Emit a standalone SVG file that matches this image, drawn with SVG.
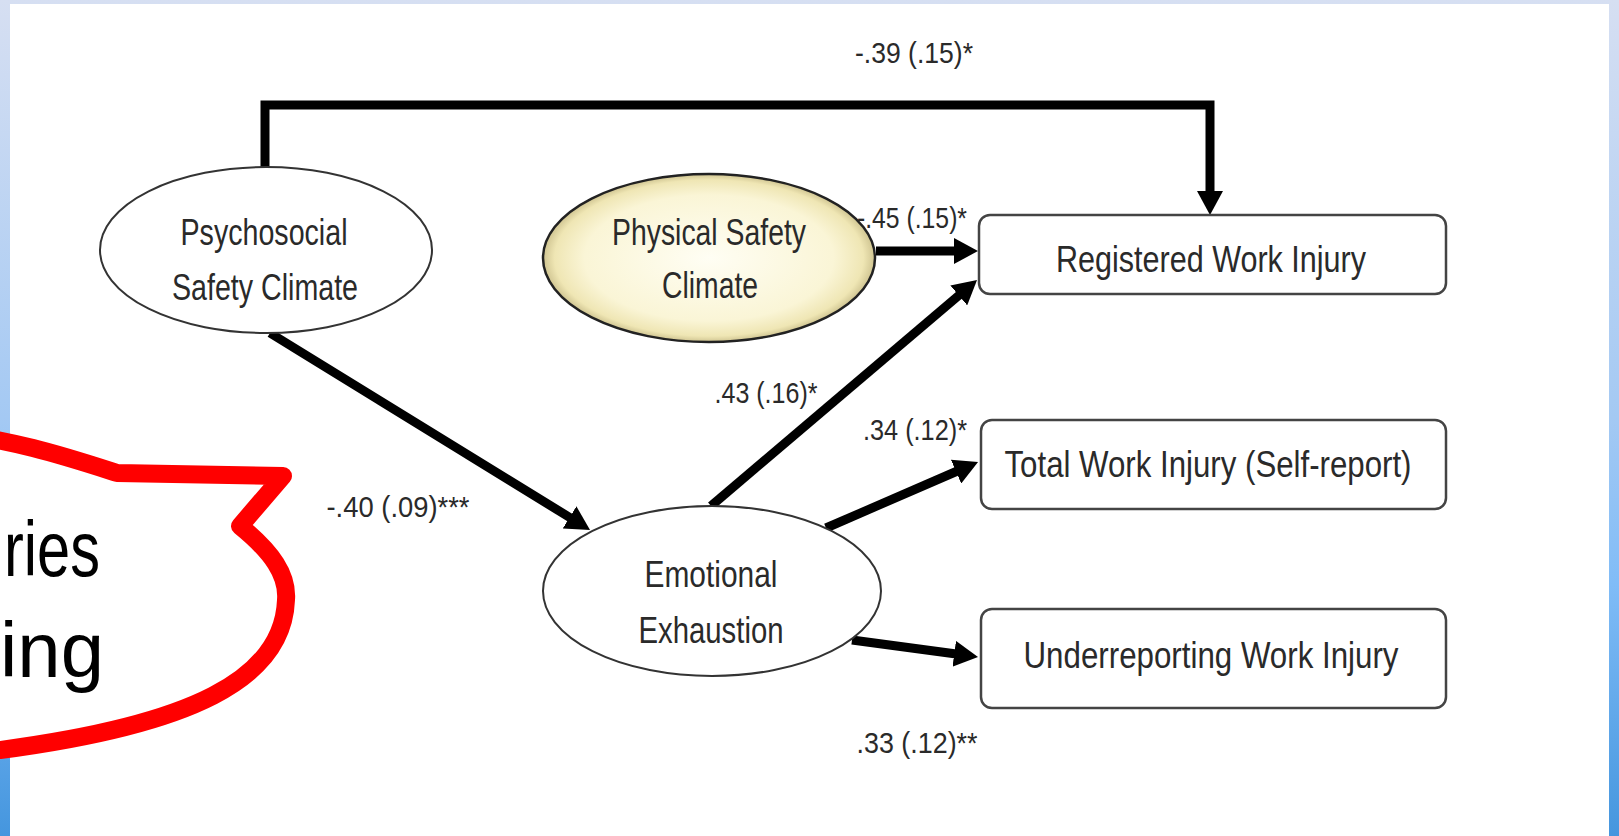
<svg xmlns="http://www.w3.org/2000/svg" width="1619" height="836" viewBox="0 0 1619 836">
  <style>
    .node-text { font-family: "Liberation Sans", Arial, sans-serif; font-size: 37px; fill: #2a2a2a; text-anchor: middle; }
    .label { font-family: "Liberation Sans", Arial, sans-serif; font-size: 30px; fill: #2a2a2a; text-anchor: middle; }
    .ell { fill: #ffffff; stroke: #333333; stroke-width: 2; }
    .box { fill: #ffffff; stroke: #444444; stroke-width: 2.5; }
    .conn { fill: none; stroke: #000000; stroke-width: 9; }
    .callout-text { font-family: "Liberation Sans", Arial, sans-serif; font-size: 77px; fill: #000000; }
  </style>
  <defs>
    <linearGradient id="frame" x1="0" y1="0" x2="0" y2="1">
      <stop offset="0" stop-color="#d6dff2"/>
      <stop offset="0.5" stop-color="#a4c9f3"/>
      <stop offset="0.7" stop-color="#80bcf7"/>
      <stop offset="1" stop-color="#4596de"/>
    </linearGradient>
    <radialGradient id="cream" cx="0.5" cy="0.5" r="0.5">
      <stop offset="0" stop-color="#fffef4"/>
      <stop offset="0.75" stop-color="#faf5d6"/>
      <stop offset="0.93" stop-color="#efe6b4"/>
      <stop offset="1" stop-color="#cfc491"/>
    </radialGradient>
    <marker id="arrow" markerUnits="userSpaceOnUse" markerWidth="24" markerHeight="26" viewBox="0 0 24 26" refX="4" refY="13" orient="auto">
      <path d="M0,0 L24,13 L0,26 Z" fill="#000000"/>
    </marker>
  </defs>

  <rect x="0" y="0" width="1619" height="836" fill="url(#frame)"/>
  <rect x="10" y="4" width="1599" height="832" fill="#ffffff"/>

  <g id="connectors">
    <path class="conn" d="M265,168 V105 H1210 V195" marker-end="url(#arrow)"/>
    <line class="conn" x1="876" y1="251" x2="958" y2="251" marker-end="url(#arrow)"/>
    <line class="conn" x1="270" y1="333" x2="573" y2="519.5" marker-end="url(#arrow)"/>
    <line class="conn" x1="711" y1="506" x2="961.8" y2="292.9" marker-end="url(#arrow)"/>
    <line class="conn" x1="826" y1="528" x2="959.7" y2="470" marker-end="url(#arrow)"/>
    <line class="conn" x1="852" y1="640" x2="958.2" y2="654.3" marker-end="url(#arrow)"/>
    <text class="label" x="914" y="63" textLength="118" lengthAdjust="spacingAndGlyphs">-.39 (.15)*</text>
    <text class="label" x="912" y="228" textLength="110" lengthAdjust="spacingAndGlyphs">-.45 (.15)*</text>
    <text class="label" x="766" y="403" textLength="103" lengthAdjust="spacingAndGlyphs">.43 (.16)*</text>
    <text class="label" x="915" y="440" textLength="104" lengthAdjust="spacingAndGlyphs">.34 (.12)*</text>
    <text class="label" x="398" y="517" textLength="143" lengthAdjust="spacingAndGlyphs">-.40 (.09)***</text>
    <text class="label" x="917" y="753" textLength="121" lengthAdjust="spacingAndGlyphs">.33 (.12)**</text>
  </g>

  <g id="psychosocial">
    <ellipse class="ell" cx="266" cy="250" rx="166" ry="83"/>
    <text class="node-text" x="264" y="245" textLength="167" lengthAdjust="spacingAndGlyphs">Psychosocial</text>
    <text class="node-text" x="265" y="300" textLength="186" lengthAdjust="spacingAndGlyphs">Safety Climate</text>
  </g>

  <g id="physical">
    <ellipse cx="709" cy="258" rx="166" ry="84" fill="url(#cream)" stroke="#222222" stroke-width="2.5"/>
    <text class="node-text" x="709" y="245" textLength="194" lengthAdjust="spacingAndGlyphs">Physical Safety</text>
    <text class="node-text" x="710" y="298" textLength="96" lengthAdjust="spacingAndGlyphs">Climate</text>
  </g>

  <g id="emotional">
    <ellipse class="ell" cx="712" cy="591" rx="169" ry="85"/>
    <text class="node-text" x="711" y="587" textLength="133" lengthAdjust="spacingAndGlyphs">Emotional</text>
    <text class="node-text" x="711" y="643" textLength="145" lengthAdjust="spacingAndGlyphs">Exhaustion</text>
  </g>

  <g id="registered">
    <rect class="box" x="979" y="215" width="467" height="79" rx="11"/>
    <text class="node-text" x="1211" y="272" textLength="310" lengthAdjust="spacingAndGlyphs">Registered Work Injury</text>
  </g>

  <g id="total">
    <rect class="box" x="981" y="420" width="465" height="89" rx="11"/>
    <text class="node-text" x="1208" y="477" textLength="407" lengthAdjust="spacingAndGlyphs">Total Work Injury (Self-report)</text>
  </g>

  <g id="underreporting">
    <rect class="box" x="981" y="609" width="465" height="99" rx="11"/>
    <text class="node-text" x="1211" y="668" textLength="375" lengthAdjust="spacingAndGlyphs">Underreporting Work Injury</text>
  </g>

  <g id="callout">
    <path d="M-60,432 C10,438 70,458 117,473 L283,476 L240,526 C272,552 288,575 286,600 C283,680 190,725 0,750 L-60,758 Z" fill="#ffffff" stroke="#ff0000" stroke-width="18" stroke-linejoin="round"/>
    <text class="callout-text" x="4" y="576" textLength="96" lengthAdjust="spacingAndGlyphs">ries</text>
    <text class="callout-text" x="0" y="677" textLength="104" lengthAdjust="spacingAndGlyphs">ing</text>
  </g>
</svg>
